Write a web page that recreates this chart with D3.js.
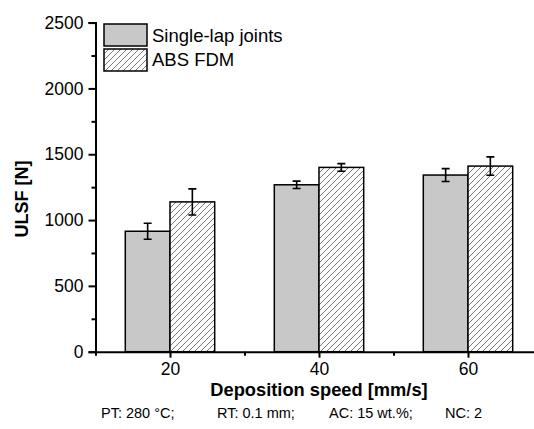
<!DOCTYPE html>
<html>
<head>
<meta charset="utf-8">
<script src="https://cdn.jsdelivr.net/npm/d3@7"></script>
<style>
  body { margin: 0; background: #fff; }
  svg { display: block; font-family: "Liberation Sans", Arial, sans-serif; }
</style>
</head>
<body>
<svg id="chart" width="534" height="429"></svg>
<script>
// lap shear force vs deposition speed
const speeds = [20, 40, 60];
const singleLap = [915, 1268, 1342];
const singleLapErr = [61, 28, 49];
const absFdm = [1138, 1400, 1410];
const absFdmErr = [99, 29, 70];

const yTicks = [0, 500, 1000, 1500, 2000, 2500];
const yMinor = [250, 750, 1250, 1750, 2250];
const xTicks = [20, 40, 60];
const xMinor = [10, 30, 50, 70];
const seriesNames = ["Single-lap joints", "ABS FDM"];
const notes = ["PT: 280 °C;", "RT: 0.1 mm;", "AC: 15 wt.%;", "NC: 2"];

const svg = d3.select("#chart");
const x = d3.scaleLinear().domain([10, 70]).range([95.5, 542.5]);
const y = d3.scaleLinear().domain([0, 2500]).range([351.7, 22.6]);
const halfW = 6; // bar width in x units

// hatch pattern
const defs = svg.append("defs");
const pat = defs.append("pattern")
  .attr("id", "hatch")
  .attr("patternUnits", "userSpaceOnUse")
  .attr("width", 6).attr("height", 6);
pat.append("rect").attr("width", 6).attr("height", 6).attr("fill", "#fff");
pat.append("path")
  .attr("d", "M-1,1 l2,-2 M0,6 l6,-6 M5,7 l2,-2")
  .attr("stroke", "#555").attr("stroke-width", 0.8);

const data = speeds.map((s, i) => ({
  s, a: singleLap[i], ae: singleLapErr[i], b: absFdm[i], be: absFdmErr[i]
}));

const g = svg.append("g");

// single-lap bars (left of tick)
g.selectAll(".barA").data(data).enter().append("rect")
  .attr("x", d => x(d.s - halfW))
  .attr("y", d => y(d.a))
  .attr("width", d => x(d.s) - x(d.s - halfW))
  .attr("height", d => y(0) - y(d.a))
  .attr("fill", "#c8c8c8")
  .attr("stroke", "#000").attr("stroke-width", 1.5);

// ABS FDM bars (right of tick)
g.selectAll(".barB").data(data).enter().append("rect")
  .attr("x", d => x(d.s))
  .attr("y", d => y(d.b))
  .attr("width", d => x(d.s + halfW) - x(d.s))
  .attr("height", d => y(0) - y(d.b))
  .attr("fill", "url(#hatch)")
  .attr("stroke", "#000").attr("stroke-width", 1.5);

// error bars
function errBar(cx, v, e) {
  const cap = 4;
  g.append("path")
    .attr("d", `M${cx - cap},${y(v + e)}H${cx + cap}M${cx},${y(v + e)}V${y(v - e)}M${cx - cap},${y(v - e)}H${cx + cap}`)
    .attr("stroke", "#000").attr("stroke-width", 1.6).attr("fill", "none");
}
data.forEach(d => {
  errBar(x(d.s - halfW / 2), d.a, d.ae);
  errBar(x(d.s + halfW / 2), d.b, d.be);
});

// y axis
svg.append("g").attr("transform", `translate(${x(10)},0)`)
  .call(d3.axisLeft(y).tickValues(yTicks).tickSize(7).tickPadding(5).tickFormat(d3.format("d")));
svg.append("g").attr("transform", `translate(${x(10)},0)`)
  .call(d3.axisLeft(y).tickValues(yMinor).tickSize(4).tickFormat(""))
  .select(".domain").remove();

// x axis
svg.append("g").attr("transform", `translate(0,${y(0)})`)
  .call(d3.axisBottom(x).tickValues(xTicks).tickSize(6).tickPadding(4.5).tickSizeOuter(0));
svg.append("g").attr("transform", `translate(0,${y(0)})`)
  .call(d3.axisBottom(x).tickValues(xMinor).tickSize(4).tickFormat(""))
  .select(".domain").remove();

svg.selectAll(".domain").attr("stroke", "#000").attr("stroke-width", 2);
svg.selectAll(".tick line").attr("stroke", "#000").attr("stroke-width", 2);
svg.selectAll(".tick text").attr("font-size", 17.5).attr("fill", "#000")
  .attr("font-family", "'Liberation Sans', Arial, sans-serif");

// axis titles
svg.append("text")
  .attr("transform", "translate(28,199) rotate(-90)")
  .attr("text-anchor", "middle")
  .attr("font-size", 18).attr("font-weight", "bold")
  .text("ULSF [N]");
svg.append("text")
  .attr("x", x(40)).attr("y", 395.5)
  .attr("text-anchor", "middle")
  .attr("font-size", 18.3).attr("font-weight", "bold")
  .text("Deposition speed [mm/s]");

// conditions line
const noteX = [101, 217, 329, 445];
svg.selectAll(".note").data(notes).enter().append("text")
  .attr("x", (d, i) => noteX[i]).attr("y", 418)
  .attr("font-size", 14.5)
  .text(d => d);

// legend
const leg = svg.append("g").attr("transform", "translate(104,24)");
seriesNames.forEach((name, i) => {
  leg.append("rect")
    .attr("x", 0).attr("y", i * 25)
    .attr("width", 43).attr("height", 22)
    .attr("fill", i === 0 ? "#c8c8c8" : "url(#hatch)")
    .attr("stroke", "#000").attr("stroke-width", 1.5);
  leg.append("text")
    .attr("x", 48).attr("y", i * 24 + 18)
    .attr("font-size", 18.5)
    .text(name);
});
</script>
</body>
</html>
